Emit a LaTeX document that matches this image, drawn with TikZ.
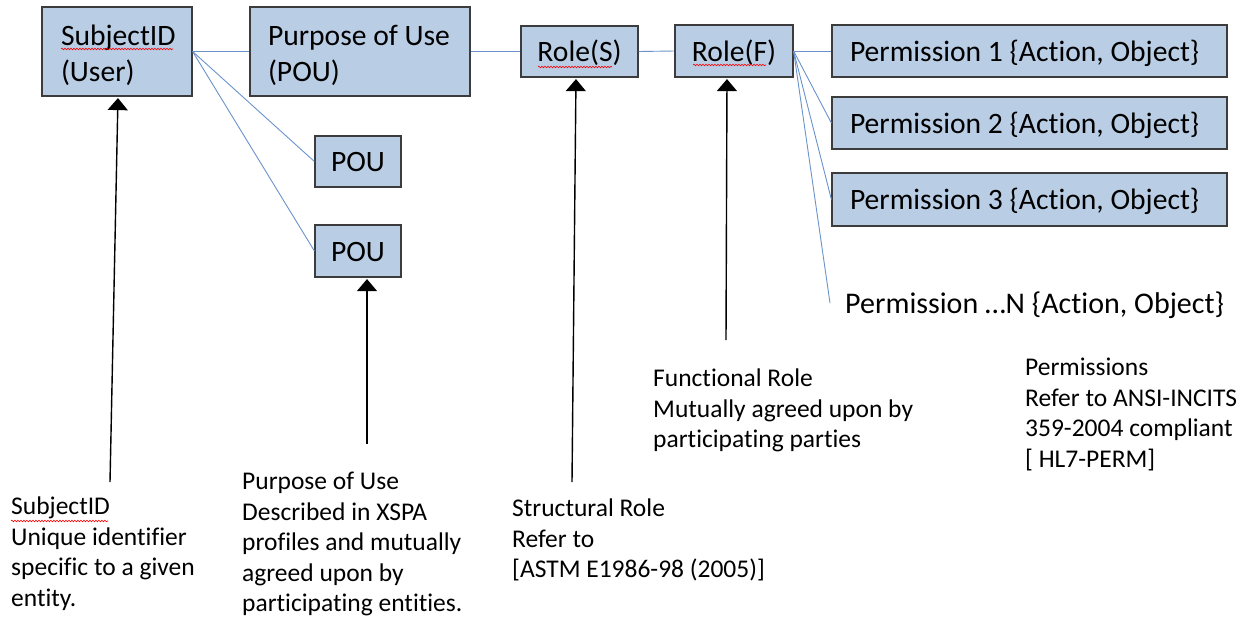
\documentclass[tikz,border=0pt]{standalone}
\usepackage{fontspec}
\setmainfont{Carlito}[Ligatures={NoCommon,NoContextual}]
\usetikzlibrary{arrows.meta,decorations.pathmorphing}
\definecolor{boxfill}{HTML}{B9CDE5}
\definecolor{boxline}{HTML}{3C3C3C}
\definecolor{linkblue}{HTML}{6A93CC}
\newcommand{\twolines}[3]{\makebox[#1][l]{\begin{tabular}[t]{@{}l@{}}#2\\#3\end{tabular}}}
\newcommand{\leftin}[2]{\makebox[#1][l]{#2}}
\begin{document}
\begin{tikzpicture}[x=1pt,y=-1pt,
  box/.style={draw=boxline, fill=boxfill, line width=1.2pt, font=\fontsize{29.6}{36}\selectfont, inner sep=0pt, text height=24pt, text depth=4pt},
  twoline/.style={text height=24pt, text depth=37pt},
  link/.style={draw=linkblue, line width=0.9pt},
  arr/.style={draw=black, line width=1.4pt, -{Triangle[width=20pt,length=12pt]}, shorten >=1.5pt},
  note/.style={anchor=north west, inner sep=0pt, align=left, font=\fontsize{25.5}{30.5}\selectfont},
  wavy/.style={draw=red, line width=0.6pt, decorate, decoration={snake, segment length=3pt, amplitude=0.8pt}}]
\useasboundingbox (0,0) rectangle (1250,619);
% boxes
\node[box, twoline, minimum width=150pt, minimum height=89pt] (sid) at (117,51.5) {\twolines{112pt}{SubjectID}{(User)}};
\node[box, twoline, minimum width=220pt, minimum height=89pt] (pou) at (360,51.5) {\twolines{184pt}{Purpose of Use}{(POU)}};
\node[box, minimum width=86pt, minimum height=51pt] (pou1) at (358,161.5) {POU};
\node[box, minimum width=86pt, minimum height=52pt] (pou2) at (358,251) {POU};
\node[box, minimum width=117pt, minimum height=51pt] (rs) at (579.5,51.5) {Role(S)};
\node[box, minimum width=118pt, minimum height=52pt] (rf) at (734,51) {Role(F)};
\node[box, minimum width=395pt, minimum height=52pt] (p1) at (1029.5,51) {\leftin{359pt}{Permission 1 \{Action, Object\}}};
\node[box, minimum width=395pt, minimum height=52pt] (p2) at (1029.5,123) {\leftin{359pt}{Permission 2 \{Action, Object\}}};
\node[box, minimum width=395pt, minimum height=53pt] (p3) at (1029.5,199.5) {\leftin{359pt}{Permission 3 \{Action, Object\}}};
\node[anchor=west, inner xsep=15pt, inner ysep=0pt, text height=25pt, text depth=4pt, font=\fontsize{30}{36}\selectfont] (pn) at (830,303) {Permission \dots N \{Action, Object\}};
% links
\draw[link] (sid.east) -- (pou.west);
\draw[link] (sid.east) -- (pou1.west);
\draw[link] (sid.east) -- (pou2.west);
\draw[link] (pou.east) -- (rs.west);
\draw[link] (rs.east) -- (rf.west);
\draw[link] (rf.east) -- (p1.west);
\draw[link] (rf.east) -- (p2.west);
\draw[link] (rf.east) -- (p3.west);
\draw[link] (rf.east) -- (pn.west);
% notes
\node[note] (n1) at (11,497) {SubjectID\\Unique identifier\\specific to a given\\entity.};
\node[note] (n2) at (242,472) {Purpose of Use\\Described in XSPA\\profiles and mutually\\agreed upon by\\participating entities.};
\node[note] (n3) at (512,499) {Structural Role\\Refer to\\{[ASTM E1986-98 (2005)]}};
\node[note] (n4) at (653,369) {Functional Role\\Mutually agreed upon by\\participating parties};
\node[note] (n5) at (1025,358) {Permissions\\Refer to ANSI-INCITS\\359-2004 compliant\\{[ HL7-PERM]}};
% arrows
\coordinate (a1) at (110,482);
\coordinate (a2) at (367,444);
\coordinate (a3) at (572,482);
\coordinate (a4) at (726,340);
\draw[arr] (a1) -- ([xshift=1pt]sid.south);
\draw[arr] (a2) -- (a2 |- pou2.south);
\draw[arr] (a3) -- ([xshift=-3.5pt]rs.south);
\draw[arr] (a4) -- ([xshift=-7pt]rf.south);
% spell-check underlines
\draw[wavy] (61,49) -- (173,49);
\draw[wavy] (538,67) -- (612,67);
\draw[wavy] (693,65) -- (766,65);
\draw[wavy] (11,521) -- (108,521);
\end{tikzpicture}
\end{document}
